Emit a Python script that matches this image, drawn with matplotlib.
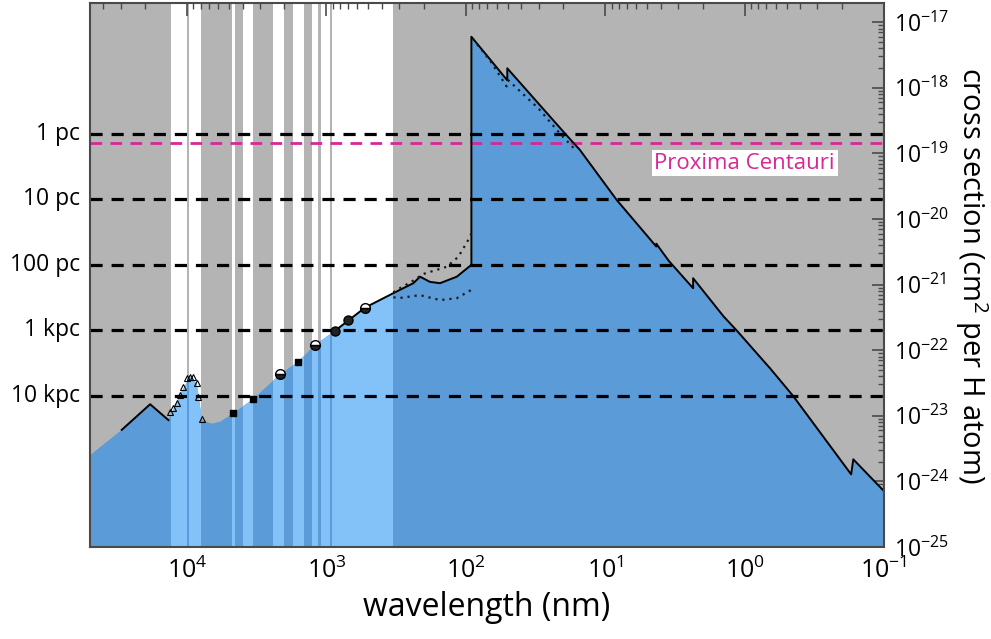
import matplotlib
matplotlib.use("Agg")
import matplotlib.pyplot as plt
from matplotlib.ticker import FixedLocator, LogLocator, NullFormatter
import numpy as np

plt.rcParams['font.family'] = ['Open Sans', 'DejaVu Sans']
plt.rcParams['mathtext.fontset'] = 'custom'
plt.rcParams['mathtext.rm'] = 'Open Sans'
plt.rcParams['mathtext.it'] = 'Open Sans:italic'
plt.rcParams['mathtext.bf'] = 'Open Sans:bold'
plt.rcParams['axes.unicode_minus'] = False

# atmospheric transmission windows (nm)
win_hi = [13090, 9720, 4780, 3950, 2430, 1730, 1260, 1100, 912]
win_lo = [9950, 7980, 4530, 3380, 2010, 1450, 1140, 942, 331]

# ISM cross section per H atom (upper envelope)
wl = [49700, 29400, 18400, 13600, 11200, 9500, 8520, 8200, 7800, 6660, 5800,
      4650, 3350, 2150, 1590, 1210, 867, 678, 529, 331, 238, 213, 181, 153,
      116, 91.2, 91.2, 50.4, 50.4, 19.4, 15.2, 8.27, 4.3, 4.3, 3.5, 2.34,
      2.34, 1.42, 1.14, 0.657, 0.448, 0.172, 0.166, 0.1]
sig = [2.5e-24, 6.1e-24, 1.5e-23, 8.6e-24, 2.1e-23, 4.0e-23, 3.1e-23, 1.8e-23,
       8.6e-24, 7.6e-24, 8.1e-24, 1.1e-23, 1.8e-23, 4.3e-23, 6.7e-23, 1.2e-22,
       1.98e-22, 2.96e-22, 4.45e-22, 7.4e-22, 1.05e-21, 1.32e-21, 1.1e-21,
       1.05e-21, 1.32e-21, 2.0e-21, 6.0e-18, 1.3e-18, 1.98e-18, 2.0e-19,
       1.13e-19, 1.95e-20, 3.8e-21, 4.2e-21, 2.3e-21, 8.8e-22, 1.25e-21,
       3.3e-22, 2.0e-22, 5.3e-23, 2.0e-23, 1.28e-24, 2.17e-24, 7.1e-25]

# dotted model curves
fuv_hi_wl = [331, 297, 238, 202, 137, 113, 96, 91.2]
fuv_hi_sig = [7.6e-22, 8.8e-22, 1.15e-21, 1.45e-21, 1.87e-21, 2.66e-21, 4.8e-21, 6.0e-21]
fuv_lo_wl = [331, 297, 213, 153, 116, 91.2]
fuv_lo_sig = [6.4e-22, 6.25e-22, 6.9e-22, 5.8e-22, 6.2e-22, 8.3e-22]
euv_wl = [89, 83.6, 67, 51, 49.5, 30, 21.1, 16.5]
euv_sig = [5.6e-18, 4.7e-18, 2.6e-18, 1.05e-18, 1.3e-18, 4.8e-19, 2.0e-19, 1.15e-19]

# measurements
tri_wl = [13240, 12540, 11860, 11230, 10630, 10050, 9510, 9010, 8520, 8290, 7850]
tri_sig = [1.16e-23, 1.3e-23, 1.55e-23, 2.07e-23, 2.78e-23, 3.73e-23, 3.95e-23,
           3.95e-23, 3.13e-23, 1.95e-23, 8.85e-24]
sq_wl = [4650, 3350, 1590]
sq_sig = [1.1e-23, 1.8e-23, 6.7e-23]
circ_wl = [2150, 1210, 529]
circ_sig = [4.3e-23, 1.2e-22, 4.45e-22]
dot_wl = [867, 700]
dot_sig = [1.98e-22, 2.9e-22]

# path length for tau = 1 at mean density
dist_labels = ['1 pc', '10 pc', '100 pc', '1 kpc', '10 kpc']
dist_sig = [2.0e-19, 2.0e-20, 2.0e-21, 2.0e-22, 2.0e-23]
prox_sig = 1.45e-19

x_ticks = [1e4, 1e3, 1e2, 1e1, 1e0, 1e-1]
y_ticks = [1e-25, 1e-24, 1e-23, 1e-22, 1e-21, 1e-20, 1e-19, 1e-18, 1e-17]

gray = '#b4b4b4'
dark_blue = '#5b9bd8'
light_blue = '#82c2f8'
magenta = '#d62896'
spine_col = '#4a4a4a'

fig = plt.figure(figsize=(9.91, 6.39), dpi=100)
ax = fig.add_axes([0.0908, 0.144, 0.8012, 0.8513])
ax.set_xscale('log')
ax.set_yscale('log')
ax.set_xlim(4.97e4, 0.1)
ax.set_ylim(1e-25, 1.96e-17)
ax.set_facecolor(gray)

wl = np.array(wl)
sig = np.array(sig)
poly = ax.fill_between(wl, 1e-27, sig, color=dark_blue, lw=0, zorder=2)
clip = poly.get_paths()[0]
for lo, hi in zip(win_lo, win_hi):
    ax.axvspan(lo, hi, color='white', lw=0, zorder=1)
    s = ax.axvspan(lo, hi, color=light_blue, lw=0, zorder=3)
    s.set_clip_path(clip, ax.transData)

for d in dist_sig:
    ax.axhline(d, color='black', lw=2.3, dashes=(3.8, 2.8), zorder=4)
ax.axhline(prox_sig, color=magenta, lw=2.0, dashes=(4.2, 3.0), zorder=4)
ax.text(1.0, 7.1e-20, 'Proxima Centauri', color=magenta, fontsize=16,
        ha='center', va='center', zorder=7,
        bbox=dict(boxstyle='square,pad=0.12', fc='white', ec='none'))

m1 = (wl >= 13600) & (wl <= 29400)
m2 = wl <= 870
ax.plot(wl[m1], sig[m1], color='black', lw=1.4, zorder=5)
ax.plot(wl[m2], sig[m2], color='black', lw=1.4, zorder=5)

ds = dict(color='#1a1a1a', lw=1.6, linestyle=(0, (1, 2.2)), zorder=5)
ax.plot(fuv_hi_wl, fuv_hi_sig, **ds)
ax.plot(fuv_lo_wl, fuv_lo_sig, **ds)
ax.plot(euv_wl, euv_sig, **ds)

ax.plot(tri_wl, tri_sig, '^', ms=5, mfc='none', mec='black', mew=0.8, zorder=6)
ax.plot(sq_wl, sq_sig, 's', ms=4, color='black', zorder=6)
ax.plot(circ_wl, circ_sig, 'o', ms=7, mec='black', mfc='#222222',
        mfcalt='white', fillstyle='bottom', mew=1.0, zorder=6)
ax.plot(dot_wl, dot_sig, 'o', ms=6.5, mec='black', mfc='#222222', zorder=6)

for sp in ax.spines.values():
    sp.set_color(spine_col)
    sp.set_linewidth(1.5)
    sp.set_zorder(8)

ax.xaxis.set_major_locator(FixedLocator(x_ticks))
ax.xaxis.set_minor_locator(LogLocator(base=10, subs=np.arange(2, 10), numticks=20))
ax.xaxis.set_minor_formatter(NullFormatter())
ax.yaxis.set_major_locator(FixedLocator(y_ticks))
ax.yaxis.set_minor_locator(LogLocator(base=10, subs=np.arange(2, 10), numticks=20))
ax.yaxis.set_minor_formatter(NullFormatter())
ax.yaxis.tick_right()
ax.tick_params(axis='x', which='both', direction='in', top=True, bottom=True,
               color=spine_col, labelsize=18, pad=8)
ax.tick_params(axis='y', which='both', direction='in', left=False, right=True,
               color=spine_col, labelsize=16.5, pad=7)
ax.tick_params(which='major', length=9, width=1.2)
ax.tick_params(which='minor', length=4.5, width=1.0)

ax.set_xlabel('wavelength (nm)', fontsize=23, labelpad=5)
ax.yaxis.set_label_position('right')
ax.set_ylabel('cross section (cm$^2$ per H atom)', fontsize=21)
ax.yaxis.label.set_rotation(270)
ax.yaxis.label.set_verticalalignment('center')
ax.yaxis.label.set_horizontalalignment('center')
ax.yaxis.set_label_coords(1.11, 0.5)

for d, lab in zip(dist_sig, dist_labels):
    ax.text(-0.012, d, lab, transform=ax.get_yaxis_transform(), ha='right',
            va='center', fontsize=16.5)

fig.savefig('out.png', dpi=100)
